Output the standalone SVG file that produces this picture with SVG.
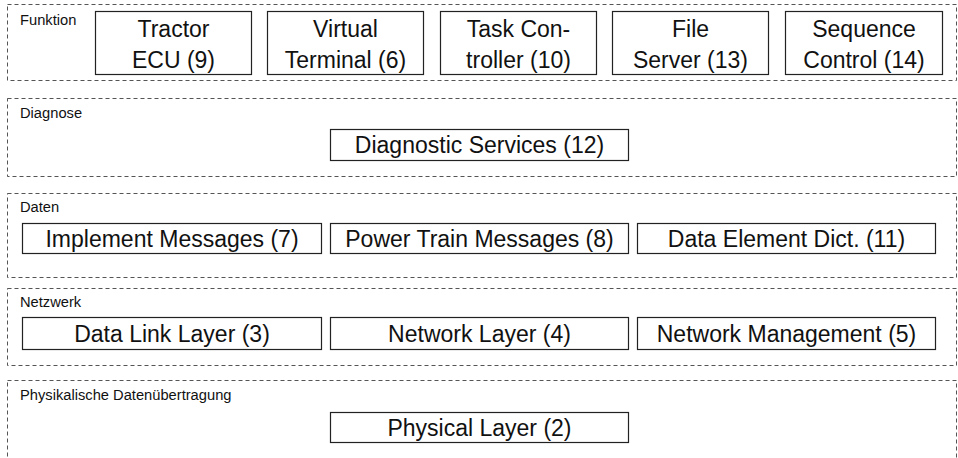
<svg xmlns="http://www.w3.org/2000/svg" width="958" height="458" viewBox="0 0 958 458">
<style>
.grp{fill:none;stroke:#555;stroke-width:1;stroke-dasharray:4 3}
.box{fill:#fff;stroke:#222;stroke-width:1.2}
.gl{font-family:"Liberation Sans",Arial,sans-serif;font-size:14.7px;fill:#111}
.bl{font-family:"Liberation Sans",Arial,sans-serif;font-size:23px;fill:#111;text-anchor:middle}
</style>
<rect width="958" height="458" fill="#fff"/>
<g id="layer-funktion">
<rect class="grp" x="7.5" y="4.5" width="949" height="76"/>
<text class="gl" x="20" y="25">Funktion</text>
</g>
<g id="layer-diagnose">
<rect class="grp" x="7.5" y="98.5" width="949" height="78"/>
<text class="gl" x="20" y="118">Diagnose</text>
</g>
<g id="layer-daten">
<rect class="grp" x="7.5" y="193.5" width="949" height="84"/>
<text class="gl" x="20" y="212">Daten</text>
</g>
<g id="layer-netzwerk">
<rect class="grp" x="7.5" y="288.5" width="949" height="77"/>
<text class="gl" x="20" y="307">Netzwerk</text>
</g>
<g id="layer-physikalisch">
<rect class="grp" x="7.5" y="380.5" width="949" height="90"/>
<text class="gl" x="20" y="400">Physikalische Datenübertragung</text>
</g>
<g id="tractor-ecu">
<rect class="box" x="95.5" y="11.5" width="156" height="63"/>
<text class="bl" x="173.5" y="37">Tractor</text>
<text class="bl" x="173.5" y="68">ECU (9)</text>
</g>
<g id="virtual-terminal">
<rect class="box" x="267.5" y="11.5" width="156" height="63"/>
<text class="bl" x="345.5" y="37">Virtual</text>
<text class="bl" x="345.5" y="68">Terminal (6)</text>
</g>
<g id="task-controller">
<rect class="box" x="440.5" y="11.5" width="156" height="63"/>
<text class="bl" x="518.5" y="37">Task Con-</text>
<text class="bl" x="518.5" y="68">troller (10)</text>
</g>
<g id="file-server">
<rect class="box" x="612.5" y="11.5" width="156" height="63"/>
<text class="bl" x="690.5" y="37">File</text>
<text class="bl" x="690.5" y="68">Server (13)</text>
</g>
<g id="sequence-control">
<rect class="box" x="785.5" y="11.5" width="157" height="63"/>
<text class="bl" x="864" y="37">Sequence</text>
<text class="bl" x="864" y="68">Control (14)</text>
</g>
<g id="diagnostic-services">
<rect class="box" x="330.5" y="129.5" width="298" height="31"/>
<text class="bl" x="479.5" y="152.5">Diagnostic Services (12)</text>
</g>
<g id="implement-messages">
<rect class="box" x="22.5" y="223.5" width="299" height="30"/>
<text class="bl" x="172" y="246.5">Implement Messages (7)</text>
</g>
<g id="power-train-messages">
<rect class="box" x="330.5" y="223.5" width="298" height="30"/>
<text class="bl" x="479.5" y="246.5">Power Train Messages (8)</text>
</g>
<g id="data-element-dict">
<rect class="box" x="637.5" y="223.5" width="298" height="30"/>
<text class="bl" x="786.5" y="246.5">Data Element Dict. (11)</text>
</g>
<g id="data-link-layer">
<rect class="box" x="22.5" y="317.5" width="299" height="32"/>
<text class="bl" x="172" y="341.5">Data Link Layer (3)</text>
</g>
<g id="network-layer">
<rect class="box" x="330.5" y="317.5" width="298" height="32"/>
<text class="bl" x="479.5" y="341.5">Network Layer (4)</text>
</g>
<g id="network-management">
<rect class="box" x="637.5" y="317.5" width="298" height="32"/>
<text class="bl" x="786.5" y="341.5">Network Management (5)</text>
</g>
<g id="physical-layer">
<rect class="box" x="330.5" y="412.5" width="298" height="30"/>
<text class="bl" x="479.5" y="435.5">Physical Layer (2)</text>
</g>
<g id="connectors"></g>
</svg>
